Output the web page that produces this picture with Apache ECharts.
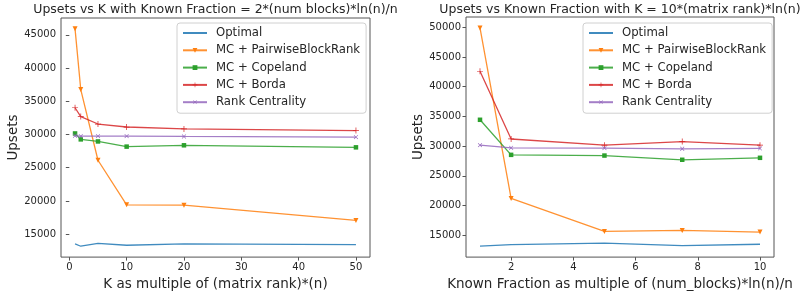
<!DOCTYPE html>
<html><head><meta charset="utf-8">
<script src="https://cdn.jsdelivr.net/npm/echarts@6/dist/echarts.min.js"></script>
<style>html,body{margin:0;padding:0;background:#fff}#c{width:801px;height:296px}</style>
</head><body><div id="c"></div>
<script>
// ---- data ----
const seriesNames = ['Optimal','MC + PairwiseBlockRank','MC + Copeland','MC + Borda','Rank Centrality'];
const kMult = [1, 2, 5, 10, 20, 50];
const leftOptimal   = [13520, 13180, 13620, 13330, 13520, 13420];
const leftPairwise  = [45890, 36750, 26120, 19410, 19360, 17070];
const leftCopeland  = [30150, 29260, 28950, 28170, 28370, 28060];
const leftBorda     = [34020, 32690, 31570, 31120, 30830, 30590];
const leftRankCent  = [29800, 29750, 29750, 29750, 29700, 29600];

const fracMult = [1, 2, 5, 7.5, 10];
const rightOptimal  = [13170, 13440, 13670, 13270, 13500];
const rightPairwise = [49900, 21210, 15660, 15830, 15550];
const rightCopeland = [34440, 28540, 28420, 27710, 28040];
const rightBorda    = [42610, 31210, 30170, 30780, 30170];
const rightRankCent = [30170, 29720, 29670, 29560, 29620];

const leftXTicks  = [0, 10, 20, 30, 40, 50];
const leftYTicks  = [15000, 20000, 25000, 30000, 35000, 40000, 45000];
const rightXTicks = [2, 4, 6, 8, 10];
const rightYTicks = [15000, 20000, 25000, 30000, 35000, 40000, 45000, 50000];

const leftTitle  = 'Upsets vs K with Known Fraction = 2*(num blocks)*ln(n)/n';
const rightTitle = 'Upsets vs Known Fraction with K = 10*(matrix rank)*ln(n)';
const leftXName  = 'K as multiple of (matrix rank)*(n)';
const rightXName = 'Known Fraction as multiple of (num_blocks)*ln(n)/n';
const yName = 'Upsets';

// ---- styling ----
const colors = ['#1f77b4','#ff7f0e','#2ca02c','#d62728','#9467bd'];
const FONT = 'DejaVu Sans';
const plusPath = 'path://M-0.12,-1H0.12V-0.12H1V0.12H0.12V1H-0.12V0.12H-1V-0.12H-0.12Z';
const markers = [
  {symbol:'circle', size:0, rot:0, show:false},
  {symbol:'triangle', size:5, rot:180, show:true},
  {symbol:'rect', size:4.5, rot:0, show:true},
  {symbol:plusPath, size:6, rot:0, show:true},
  {symbol:plusPath, size:5.5, rot:45, show:true}
];

function range(xs, ys) {
  const lo = Math.min(...ys), hi = Math.max(...ys);
  const xl = Math.min(...xs), xh = Math.max(...xs);
  const my = (hi - lo) * 0.05, mx = (xh - xl) * 0.05;
  return {xmin: xl - mx, xmax: xh + mx, ymin: lo - my, ymax: hi + my};
}

const axisColor = '#555';
const textColor = '#262626';
const plain = v => String(v);

function xAxisDef(idx, r, ticks, name) {
  return {
    type:'value', gridIndex: idx, min: r.xmin, max: r.xmax,
    axisLine:{show:false}, splitLine:{show:false},
    axisTick:{show:true, length:3.5, lineStyle:{color:axisColor}, customValues: ticks},
    axisLabel:{color:textColor, fontFamily:FONT, fontSize:10, margin:5, customValues: ticks, formatter: plain},
    name: name, nameLocation:'middle', nameGap:16,
    nameTextStyle:{color:textColor, fontFamily:FONT, fontSize:13.5, verticalAlign:'top'}
  };
}
function yAxisDef(idx, r, ticks, gap) {
  return {
    type:'value', gridIndex: idx, min: r.ymin, max: r.ymax,
    axisLine:{show:false}, splitLine:{show:false},
    axisTick:{show:true, length:3.5, lineStyle:{color:axisColor}, customValues: ticks},
    axisLabel:{color:textColor, fontFamily:FONT, fontSize:10, margin:5, customValues: ticks, formatter: plain},
    name: yName, nameLocation:'middle', nameGap: gap, nameRotate: 90,
    nameTextStyle:{color:textColor, fontFamily:FONT, fontSize:13.5}
  };
}

function buildSeries(idx, xs, arrays) {
  return arrays.map((ys, i) => ({
    type:'line', name: seriesNames[i], xAxisIndex: idx, yAxisIndex: idx,
    data: xs.map((x, j) => [x, ys[j]]),
    symbol: markers[i].symbol, symbolSize: markers[i].size, symbolRotate: markers[i].rot,
    showSymbol: markers[i].show,
    lineStyle:{color: colors[i], width:1.3, opacity:0.85},
    itemStyle:{color: colors[i], borderWidth:0},
    emphasis:{disabled:true}, animation:false, z: 2 + i
  }));
}

const lArr = [leftOptimal, leftPairwise, leftCopeland, leftBorda, leftRankCent];
const rArr = [rightOptimal, rightPairwise, rightCopeland, rightBorda, rightRankCent];
const rL = range(kMult, lArr.flat());
const rR = range(fracMult, rArr.flat());

function legendDef(left) {
  return {
    orient:'vertical', left: left, top: 23,
    data: seriesNames.map((n, i) => i === 0 ? {name:n, itemStyle:{opacity:0}} : {name:n}),
    itemWidth: 24, itemHeight: 6, itemGap: 3.3,
    padding:[3, 6, 4, 5],
    borderColor:'#d0d0d0', borderWidth:1, borderRadius:3, backgroundColor:'rgba(255,255,255,0.8)',
    textStyle:{color:textColor, fontFamily:FONT, fontSize:11.7, lineHeight:14, padding:[0,0,0,4]},
    selectedMode:false
  };
}

const option = {
  animation:false,
  backgroundColor:'#fff',
  grid:[
    {left:61, top:18, width:309, height:241, show:true, borderColor:axisColor, borderWidth:1, backgroundColor:'transparent'},
    {left:466, top:17, width:308, height:242, show:true, borderColor:axisColor, borderWidth:1, backgroundColor:'transparent'}
  ],
  xAxis:[xAxisDef(0, rL, leftXTicks, leftXName), xAxisDef(1, rR, rightXTicks, rightXName)],
  yAxis:[yAxisDef(0, rL, leftYTicks, 39), yAxisDef(1, rR, rightYTicks, 40)],
  legend:[legendDef(177), legendDef(583)],
  series: buildSeries(0, kMult, lArr).concat(buildSeries(1, fracMult, rArr)),
  graphic:[
    {type:'text', x:215.5, y:10, style:{text:leftTitle, fill:textColor, font:'12.5px "DejaVu Sans"', textAlign:'center', textVerticalAlign:'middle'}},
    {type:'text', x:620, y:10, style:{text:rightTitle, fill:textColor, font:'12.5px "DejaVu Sans"', textAlign:'center', textVerticalAlign:'middle'}}
  ]
};
const chart = echarts.init(document.getElementById('c'), null, {renderer:'canvas'});
chart.setOption(option);
</script></body></html>
